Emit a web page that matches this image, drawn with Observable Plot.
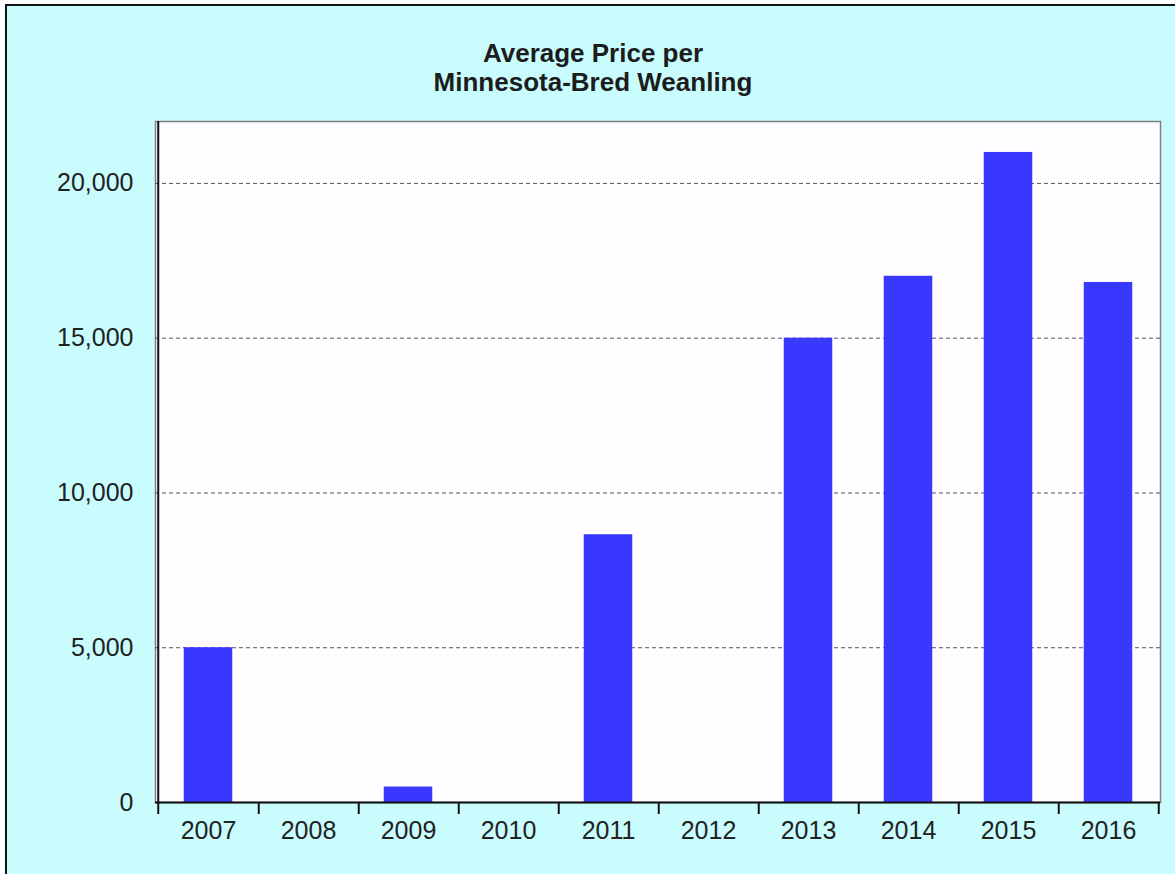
<!DOCTYPE html>
<html><head><meta charset="utf-8">
<script src="https://cdn.jsdelivr.net/npm/d3@7"></script>
<script src="https://cdn.jsdelivr.net/npm/@observablehq/plot@0.6"></script>
<style>
html,body{margin:0;padding:0;background:#fff;}
#wrap{position:absolute;left:5px;top:4px;width:1170px;height:870px;background:#c9fcfd;border-left:2px solid #111;border-top:2px solid #111;box-sizing:border-box;overflow:hidden;}
#title{height:104px;box-sizing:border-box;padding-top:33px;padding-left:4px;text-align:center;font:bold 26px/29px "Liberation Sans",Arial,sans-serif;color:#1c1c1c;}
#chart svg{display:block;}
</style></head><body>
<div id="wrap"><div id="title">Average Price per<br>Minnesota-Bred Weanling</div><div id="chart"></div></div>
<script>
const years = ["2007","2008","2009","2010","2011","2012","2013","2014","2015","2016"];
const prices = [5000, 0, 500, 0, 8650, 0, 15000, 17000, 21000, 16800];
const yTicks = [0, 5000, 10000, 15000, 20000];
const gridTicks = [5000, 10000, 15000, 20000];

const data = years.map((y, i) => ({year: y, value: prices[i]}));

const W = 1168, H = 764, mL = 148, mR = 15, mT = 11, mB = 72;
const step = (W - mL - mR) / years.length;
const half = step / 2;
const barW = 49;
const inset = (step - barW) / 2;

const chart = Plot.plot({
  width: W, height: H,
  marginLeft: mL, marginRight: mR, marginTop: mT, marginBottom: mB,
  style: {background: "transparent", fontFamily: "'Liberation Sans', Arial, sans-serif", fontSize: "25px", color: "#222", overflow: "visible"},
  x: {type: "band", domain: years, padding: 0, axis: null, label: null},
  y: {domain: [0, 22000], axis: null, label: null},
  marks: [
    Plot.frame({fill: "#fffdff", stroke: "#808080", strokeWidth: 1.5}),
    Plot.gridY({ticks: gridTicks, stroke: "#555", strokeOpacity: 1, strokeDasharray: "4,3", strokeWidth: 1}),
    Plot.barY(data, {x: "year", y: "value", fill: "#3838ff", insetLeft: inset, insetRight: inset}),
    Plot.ruleX([years[0]], {dx: -half, stroke: "#111", strokeWidth: 2}),
    Plot.ruleY([0], {stroke: "#111", strokeWidth: 2}),
    Plot.axisX({ticks: years, dx: half, tickSize: 12, tickFormat: () => "", label: null, stroke: "#111", strokeWidth: 2}),
    Plot.axisX({ticks: [years[0]], dx: -half, tickSize: 12, tickFormat: () => "", label: null, stroke: "#111", strokeWidth: 2}),
    Plot.axisX({ticks: years, tickSize: 0, tickPadding: 19, label: null, fill: "#222", fontSize: 25}),
    Plot.axisY({ticks: yTicks, tickSize: 0, tickPadding: 22, tickFormat: d3.format(","), label: null, fill: "#222", fontSize: 25})
  ]
});
document.getElementById("chart").appendChild(chart);
</script>
</body></html>
